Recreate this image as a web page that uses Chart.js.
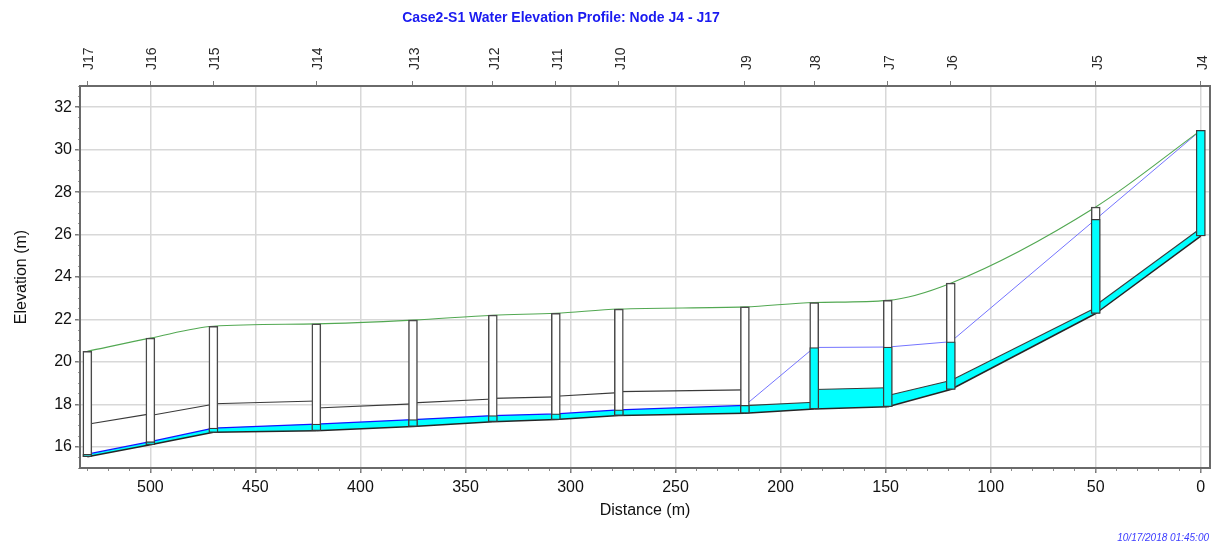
<!DOCTYPE html>
<html>
<head>
<meta charset="utf-8">
<title>Case2-S1 Water Elevation Profile</title>
<script src="https://cdn.jsdelivr.net/npm/chart.js@4.4.1/dist/chart.umd.min.js"></script>
<style>
  html, body { margin: 0; padding: 0; background: #fff; }
  #wrap { width: 1224px; height: 550px; }
</style>
</head>
<body>
<div id="wrap"><canvas id="profile" width="1224" height="550"></canvas></div>
<script>
// Nodes along the profile, ordered left to right (distance from J4, m)
const nodeNames  = ['J17', 'J16', 'J15', 'J14', 'J13', 'J12', 'J11', 'J10', 'J9', 'J8', 'J7', 'J6', 'J5', 'J4'];
const nodeDist   = [530, 500, 470, 421, 375, 337, 307, 277, 217, 184, 149, 119, 50, 0];
const groundElev = [20.5, 21.12, 21.68, 21.79, 21.97, 22.2, 22.29, 22.49, 22.59, 22.8, 22.9, 23.71, 27.3, 30.91];
const invertElev = [15.53, 16.1, 16.68, 16.76, 16.96, 17.18, 17.28, 17.47, 17.58, 17.78, 17.89, 18.7, 22.28, 25.93];
const waterElev  = [15.65, 16.24, 16.88, 17.07, 17.28, 17.47, 17.55, 17.74, 17.95, 20.68, 20.7, 20.95, 26.72, 30.91];

// Conduit crown at each end (pipe i joins node i and node i+1)
const crownStart = [17.06, 17.47, 18.03, 17.83, 18.07, 18.28, 18.38, 18.6, 17.94, 18.7, 18.42, 19.12, 22.67];
const crownEnd   = [17.55, 18.0, 18.16, 18.02, 18.25, 18.35, 18.55, 18.68, 18.1, 18.78, 19.12, 22.55, 26.3];

// Axis ticks
const xTicks = [0, 50, 100, 150, 200, 250, 300, 350, 400, 450, 500];
const yTicks = [16, 18, 20, 22, 24, 26, 28, 30, 32];
const xMin = -4.4, xMax = 533.5;
const yMin = 15, yMax = 33;

const titleText = 'Case2-S1 Water Elevation Profile: Node J4 - J17';
const stampText = '10/17/2018 01:45:00';

Chart.defaults.font.family = '"Liberation Sans", Arial, sans-serif';

const axisColor = '#6a6a6a';
const gridColor = '#d8d8d8';
const tickColor = '#7a7a7a';

const pts = (ys) => nodeDist.map((x, i) => ({ x: x, y: ys[i] }));

const datasets = [];

// manholes: water part on top of the white box
datasets.push({
  type: 'bar',
  data: nodeDist.map((x, i) => ({ x: x, y: [invertElev[i], waterElev[i]] })),
  backgroundColor: '#00ffff',
  borderColor: '#3a3a3a',
  borderWidth: 1.3,
  borderSkipped: false,
  barThickness: 9,
  grouped: false,
  order: 0
});
datasets.push({
  type: 'bar',
  data: nodeDist.map((x, i) => ({ x: x, y: [invertElev[i], groundElev[i]] })),
  backgroundColor: '#ffffff',
  borderColor: '#4a4a4a',
  borderWidth: 1.5,
  borderSkipped: false,
  barThickness: 9,
  grouped: false,
  order: 1
});

// ground line
datasets.push({
  type: 'line',
  data: pts(groundElev),
  borderColor: '#52a852',
  borderWidth: 1.1,
  pointRadius: 0,
  cubicInterpolationMode: 'monotone',
  fill: false,
  order: 2
});

// hydraulic grade line
datasets.push({
  type: 'line',
  data: pts(waterElev),
  borderColor: '#1010ff',
  borderWidth: 1.3,
  pointRadius: 0,
  fill: false,
  segment: {
    borderColor: ctx => ctx.p0DataIndex >= 8 ? '#7474ff' : '#1414ff',
    borderWidth: ctx => ctx.p0DataIndex >= 8 ? 1 : 1.3
  },
  order: 3
});

// conduits: invert, water (filled down to invert), crown
for (let i = 0; i < nodeDist.length - 1; i++) {
  const xa = nodeDist[i], xb = nodeDist[i + 1];
  datasets.push({
    type: 'line',
    data: [{ x: xa, y: invertElev[i] }, { x: xb, y: invertElev[i + 1] }],
    borderColor: '#262626',
    borderWidth: 1.5,
    pointRadius: 0,
    fill: false,
    order: 5
  });
  datasets.push({
    type: 'line',
    data: [
      { x: xa, y: Math.min(waterElev[i], crownStart[i]) },
      { x: xb, y: Math.min(waterElev[i + 1], crownEnd[i]) }
    ],
    borderColor: 'rgba(0,0,0,0)',
    borderWidth: 0,
    backgroundColor: '#00ffff',
    pointRadius: 0,
    fill: '-1',
    order: 7
  });
  datasets.push({
    type: 'line',
    data: [{ x: xa, y: crownStart[i] }, { x: xb, y: crownEnd[i] }],
    borderColor: '#3a3a3a',
    borderWidth: 1.1,
    pointRadius: 0,
    fill: false,
    order: 4
  });
}

datasets.forEach(ds => { ds.xAxisID = 'x'; ds.yAxisID = 'y'; });

// title and time stamp
const captions = {
  id: 'captions',
  afterDraw(chart) {
    const ctx = chart.ctx;
    ctx.save();
    ctx.textBaseline = 'middle';
    ctx.textAlign = 'center';
    ctx.fillStyle = '#1a1af0';
    ctx.font = 'bold 14px "Liberation Sans", Arial, sans-serif';
    ctx.fillText(titleText, 561, 18);
    ctx.textAlign = 'right';
    ctx.fillStyle = '#3b3bff';
    ctx.font = 'italic 10px "Liberation Sans", Arial, sans-serif';
    ctx.fillText(stampText, 1209, 538);
    ctx.restore();
  }
};

function minorTicks(from, to, step) {
  const out = [];
  for (let v = from; v <= to + 1e-9; v += step) out.push({ value: Math.round(v * 100) / 100 });
  return out;
}

new Chart(document.getElementById('profile'), {
  type: 'line',
  data: { datasets: datasets },
  options: {
    responsive: false,
    animation: false,
    devicePixelRatio: 1,
    layout: { padding: { left: 0, right: 14, top: 0, bottom: 25 } },
    plugins: {
      legend: { display: false },
      tooltip: { enabled: false },
      title: { display: false }
    },
    scales: {
      x: {
        type: 'linear', position: 'bottom', reverse: true, weight: 1,
        min: xMin, max: xMax, offset: false,
        afterBuildTicks: s => { s.ticks = xTicks.map(v => ({ value: v })); },
        afterFit: s => { s.height = 57; },
        grid: { color: gridColor, lineWidth: 1.5, tickLength: 5, tickColor: tickColor, offset: false },
        border: { color: axisColor, width: 2 },
        ticks: { font: { size: 16 }, color: '#111', padding: 5, maxRotation: 0, autoSkip: false },
        title: { display: true, text: 'Distance (m)', font: { size: 16 }, color: '#111', padding: { top: 0, bottom: 5 } }
      },
      xMinor: {
        type: 'linear', position: 'bottom', reverse: true, weight: 0,
        min: xMin, max: xMax, offset: false,
        afterBuildTicks: s => { s.ticks = minorTicks(0, 530, 10); },
        afterFit: s => { s.height = 0; },
        grid: { drawOnChartArea: false, tickLength: 3, tickColor: '#8a8a8a', offset: false },
        border: { display: false },
        ticks: { display: false }
      },
      xTop: {
        type: 'linear', position: 'top', reverse: true,
        min: xMin, max: xMax, offset: false,
        afterBuildTicks: s => { s.ticks = nodeDist.map(v => ({ value: v })); },
        afterFit: s => { s.height = 86; },
        grid: { drawOnChartArea: false, tickLength: 5, tickColor: tickColor, offset: false },
        border: { color: axisColor, width: 2 },
        ticks: {
          font: { size: 14 }, color: '#2a2a2a', padding: 11, labelOffset: 19,
          minRotation: 90, maxRotation: 90, autoSkip: false,
          callback: v => nodeNames[nodeDist.indexOf(v)]
        }
      },
      y: {
        type: 'linear', position: 'left', weight: 1,
        min: yMin, max: yMax,
        afterBuildTicks: s => { s.ticks = yTicks.map(v => ({ value: v })); },
        afterFit: s => { s.width = 80; },
        grid: { color: gridColor, lineWidth: 1.5, tickLength: 5, tickColor: tickColor },
        border: { color: axisColor, width: 2 },
        ticks: { font: { size: 16 }, color: '#111', padding: 3 },
        title: { display: true, text: 'Elevation (m)', font: { size: 16 }, color: '#111', padding: { top: 12, bottom: 0 } }
      },
      yMinor: {
        type: 'linear', position: 'left', weight: 0,
        min: yMin, max: yMax,
        afterBuildTicks: s => { s.ticks = minorTicks(15, 33, 0.5); },
        afterFit: s => { s.width = 0; },
        grid: { drawOnChartArea: false, tickLength: 2, tickColor: '#9a9a9a' },
        border: { display: false },
        ticks: { display: false }
      },
      yRight: {
        type: 'linear', position: 'right',
        min: yMin, max: yMax,
        afterFit: s => { s.width = 0; },
        grid: { drawOnChartArea: false, drawTicks: false },
        border: { color: axisColor, width: 2 },
        ticks: { display: false }
      }
    }
  },
  plugins: [captions]
});
</script>
</body>
</html>
